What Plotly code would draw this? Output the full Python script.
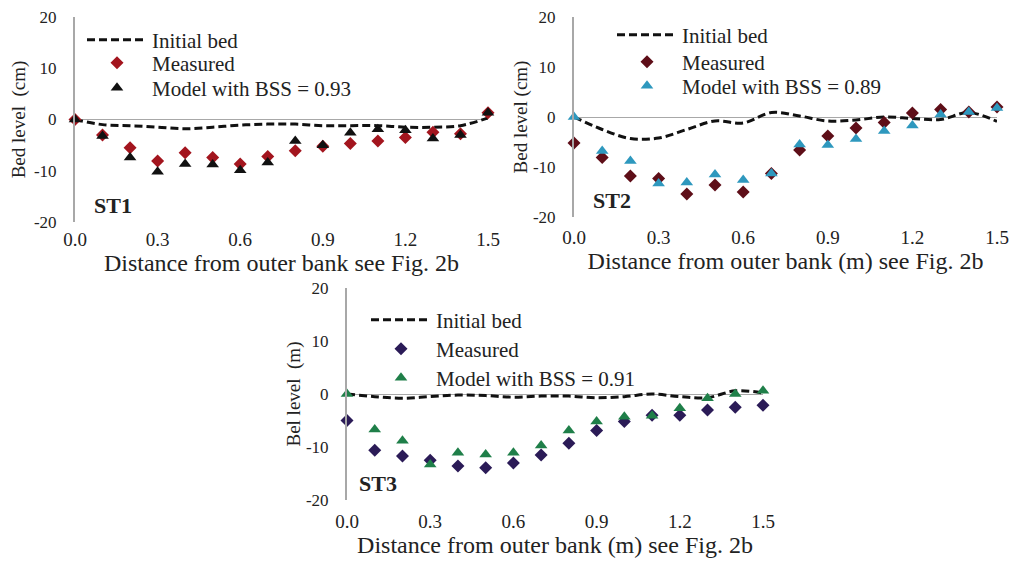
import plotly.graph_objects as go

# ---------------- data ----------------
distance = [0.0, 0.1, 0.2, 0.3, 0.4, 0.5, 0.6, 0.7, 0.8, 0.9, 1.0, 1.1, 1.2, 1.3, 1.4, 1.5]

st1_initial = [0.0, -1.0, -1.2, -1.5, -1.8, -1.5, -1.1, -0.9, -0.9, -1.2, -1.2, -1.2, -1.5, -1.5, -1.2, 0.3]
st1_measured = [0.0, -3.0, -5.5, -8.1, -6.5, -7.4, -8.7, -7.2, -6.1, -5.2, -4.7, -4.2, -3.5, -2.5, -2.8, 1.3]
st1_model = [0.0, -3.2, -7.4, -10.2, -8.7, -8.8, -9.9, -8.4, -4.2, -5.0, -2.6, -1.9, -2.1, -3.7, -3.0, 1.3]

st2_initial = [0.0, -2.5, -4.3, -4.2, -2.5, -0.8, -1.2, 0.9, 0.2, -0.8, -0.6, 0.0, -0.3, -0.5, 0.9, -0.9]
st2_measured = [-5.2, -8.1, -11.8, -12.3, -15.4, -13.6, -15.0, -11.3, -6.6, -3.8, -2.2, -1.1, 0.8, 1.5, 1.0, 2.0]
st2_model = [0.0, -6.8, -8.8, -13.3, -13.1, -11.5, -12.6, -11.3, -5.5, -5.6, -4.4, -2.8, -1.7, 0.5, 1.0, 1.8]

st3_initial = [0.0, -0.5, -0.8, -0.5, -0.2, -0.3, -0.6, -0.4, -0.4, -0.7, -0.5, 0.0, -0.5, -0.7, 0.6, 0.2]
st3_measured = [-5.0, -10.6, -11.7, -12.5, -13.6, -13.9, -13.0, -11.5, -9.3, -6.9, -5.2, -4.0, -4.0, -3.0, -2.5, -2.1]
st3_model = [0.0, -6.7, -8.8, -13.3, -11.1, -11.4, -11.1, -9.7, -6.9, -5.2, -4.3, -4.1, -2.7, -0.8, 0.0, 0.6]

x_ticks = [0.0, 0.3, 0.6, 0.9, 1.2, 1.5]
x_ticklabels = ["0.0", "0.3", "0.6", "0.9", "1.2", "1.5"]
y_ticks = [-20, -10, 0, 10, 20]
y_ticklabels = ["-20", "-10", "0", "10", "20"]

panels = [
    dict(name="ST1", initial=st1_initial, measured=st1_measured, model=st1_model,
         bss="0.93", mcol="#A3151E", tcol="#111111",
         xtitle="Distance from outer bank see Fig. 2b", ytitle="Bed level  (cm)"),
    dict(name="ST2", initial=st2_initial, measured=st2_measured, model=st2_model,
         bss="0.89", mcol="#5E0E18", tcol="#2E98BE",
         xtitle="Distance from outer bank (m) see Fig. 2b", ytitle="Bed level (cm)"),
    dict(name="ST3", initial=st3_initial, measured=st3_measured, model=st3_model,
         bss="0.91", mcol="#2B1B57", tcol="#1F7F49",
         xtitle="Distance from outer bank (m) see Fig. 2b", ytitle="Bel level  (m)"),
]

W, H = 1011, 562
# pixel boxes (left, right, top, bottom) of each plot area
boxes = [(75, 488, 17, 222), (574, 997, 17, 217), (347, 763, 288, 500)]
# legend left x and the three entry centre y's (pixels)
legend_x = [82, 612, 366]
legend_y = [[40, 63, 88], [35, 62, 86], [320, 349, 378]]
xtick_standoff = [4, 7, 8]
xtitle_standoff = [0, 2, 3]
ytitle_standoff = [3, 0, 0]
label_x = [0.04, 0.04, 0.025]

FONT = "Liberation Serif, Times New Roman, serif"
fig = go.Figure()

legend_layout = {}
n_leg = 0
for i, (p, box) in enumerate(zip(panels, boxes)):
    sfx = "" if i == 0 else str(i + 1)
    xa, ya = "x" + sfx, "y" + sfx
    traces = [
        go.Scatter(x=distance, y=p["initial"], mode="lines", name="Initial bed",
                   line=dict(color="#111111", width=3, dash="8px,4px", shape="spline")),
        go.Scatter(x=distance, y=p["measured"], mode="markers", name="Measured",
                   marker=dict(symbol="diamond", size=10, color=p["mcol"])),
        go.Scatter(x=distance, y=p["model"], mode="markers",
                   name="Model with BSS = " + p["bss"],
                   marker=dict(symbol="triangle-up", size=11, color=p["tcol"])),
    ]
    for j, tr in enumerate(traces):
        n_leg += 1
        lg = "legend" if n_leg == 1 else "legend" + str(n_leg)
        tr.update(xaxis=xa, yaxis=ya, legend=lg, cliponaxis=False)
        fig.add_trace(tr)
        legend_layout[lg] = dict(x=legend_x[i] / W, y=1 - legend_y[i][j] / H,
                                 xanchor="left", yanchor="middle", bgcolor="rgba(0,0,0,0)",
                                 itemwidth=60, tracegroupgap=0,
                                 font=dict(family=FONT, size=21, color="#222"))
    l, r, t, b = box
    xkey = "xaxis" + sfx
    ykey = "yaxis" + sfx
    fig.update_layout({
        xkey: dict(domain=[l / W, r / W], range=[0, 1.5], anchor=ya, automargin=False,
                   tickvals=x_ticks, ticktext=x_ticklabels, showgrid=False,
                   zeroline=False, showline=False, ticks="",
                   ticklabelstandoff=xtick_standoff[i],
                   tickfont=dict(family=FONT, size=19, color="#222"),
                   title=dict(text=p["xtitle"], standoff=xtitle_standoff[i],
                              font=dict(family=FONT, size=24, color="#222"))),
        ykey: dict(domain=[1 - b / H, 1 - t / H], range=[-20, 20], anchor=xa, automargin=False,
                   tickvals=y_ticks, ticktext=y_ticklabels, showgrid=False, zeroline=True,
                   zerolinecolor="#A8A8A8", zerolinewidth=1.2,
                   showline=True, linecolor="#A8A8A8", linewidth=2, ticks="",
                   ticklabelstandoff=13,
                   tickfont=dict(family=FONT, size=17, color="#222"),
                   title=dict(text=p["ytitle"], standoff=ytitle_standoff[i],
                              font=dict(family=FONT, size=19, color="#222"))),
    })
    fig.add_annotation(text="<b>" + p["name"] + "</b>", xref=xa + " domain", yref=ya + " domain",
                       x=label_x[i], y=0.01, xanchor="left", yanchor="bottom", showarrow=False,
                       font=dict(family=FONT, size=22, color="#222"))

fig.update_layout(legend_layout)
fig.update_layout(width=W, height=H, margin=dict(l=0, r=0, t=0, b=0, autoexpand=False),
                  paper_bgcolor="white", plot_bgcolor="white", showlegend=True,
                  font=dict(family=FONT))
fig.write_html("out.html", config={"displayModeBar": False},
               post_script="document.body.style.margin='0';")
